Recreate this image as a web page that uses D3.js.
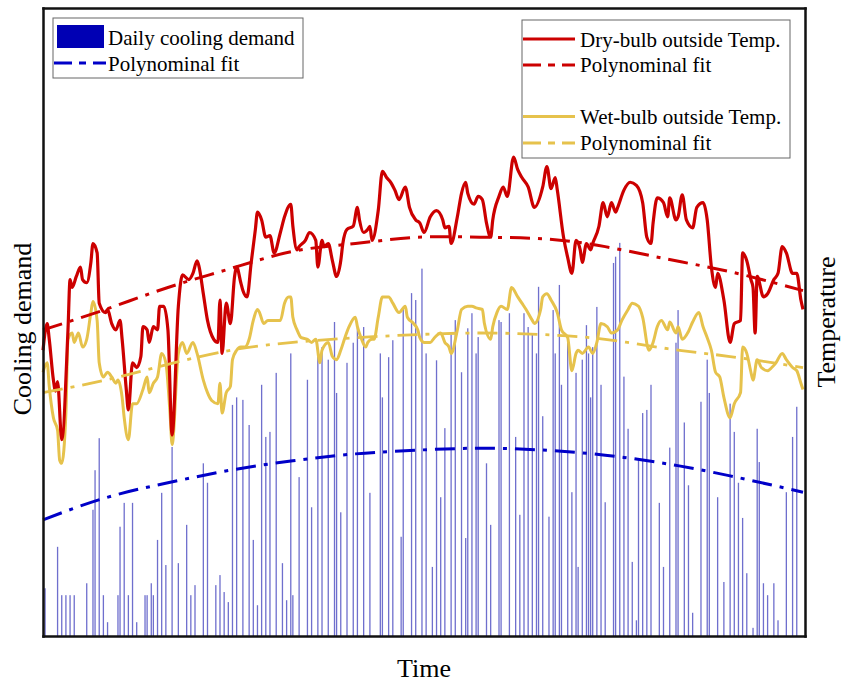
<!DOCTYPE html>
<html>
<head>
<meta charset="utf-8">
<script src="https://cdn.jsdelivr.net/npm/d3@7"></script>
<style>
  html, body { margin: 0; padding: 0; background: #fff; }
  svg { display: block; }
  text { font-family: "Liberation Serif", "Times New Roman", serif; fill: #000; }
</style>
</head>
<body>
<svg id="chart" width="841" height="683"></svg>
<script>
// ---- Data (one year, day index 0..365) ----

// Daily cooling demand, one value per day (relative units)
const dailyDemand = [
  0,7.6,0,0,0,0,0,14.2,0,6.5,0,6.5,0,6.5,0,6.5,0,0,0,0,
  0,8.4,0,0,20.1,26.4,0,31.5,0,6.5,0,2.2,0,0,0,0,6.5,17.4,0,21.2,
  0,6.5,0,21.2,0,2.2,0,0,0,6.5,6.5,0,8.4,6.5,0,15.3,0,22.8,0,11.3,
  0,0,30.1,0,0,11.6,0,0,0,17.7,0,6.5,0,8.1,0,0,0,27.5,0,24.4,
  0,0,0,8.1,0,9.7,0,7.0,0,5.4,0,36.8,0,38.0,0,0,37.6,0,0,33.6,
  0,15.3,0,4.9,0,40.0,0,31.7,0,32.5,0,0,41.9,0,0,11.6,0,5.7,0,45.0,
  6.5,0,0,25.3,0,0,0,40.8,0,20.5,0,0,45.0,0,46.0,0,0,44.0,0,0,
  50.0,38.7,0,19.7,0,0,43.5,0,0,46.7,0,49.5,0,0,49.2,0,0,22.8,0,0,
  0,0,45.0,38.0,0,0,44.4,0,47.1,0,0,0,15.8,52.4,0,0,0,54.6,0,53.5,
  0,0,58.5,0,45.0,0,0,11.0,0,43.9,0,22.1,0,33.1,0,0,48.0,0,50.3,0,
  0,42.0,0,15.6,49.0,0,51.4,0,45.0,47.6,0,0,0,27.5,0,17.7,0,0,0,50.3,
  50.0,0,0,0,51.4,0,0,31.7,0,19.3,0,51.4,0,49.2,0,48.0,0,45.0,55.6,0,
  35.0,0,0,19.0,0,51.9,45.0,0,55.9,40.0,0,0,47.0,0,22.9,0,41.9,11.0,0,44.0,
  0,49.5,45.0,38.0,46.0,0,52.4,0,40.0,0,21.3,0,0,0,59.4,60.4,0,62.6,0,41.3,
  0,33.0,0,11.8,0,2.5,28.0,0,35.5,0,36.0,0,40.0,0,0,0,21.2,0,11.0,0,
  0,30.0,0,0,46.7,51.9,0,0,34.0,0,24.0,0,3.7,0,0,0,37.3,0,0,44.0,
  38.7,0,0,0,22.1,0,0,8.6,0,0,37.0,0,32.5,0,24.4,0,18.8,0,10.0,0,
  0,1.3,0,33.0,27.7,0,8.4,0,6.5,0,0,8.4,0,2.5,0,0,0,22.9,0,0,
  31.7,0,36.5,0,0
];

// Dry-bulb outside temperature (°C): recorded days and values
const dryDays = [0,2,3,5,6,7,9,12,13,14,16,18,19,21,23,24,26,27,30,31,33,35,37,38,40,41,43,45,47,48,50,51,53,55,56,58,60,62,65,67,70,72,74,75,77,79,82,84,85,86,88,90,92,93,95,96,98,100,102,103,105,107,109,111,114,116,119,120,122,123,126,128,131,132,134,135,137,139,141,143,144,146,149,151,152,154,156,157,158,161,163,165,167,169,171,174,176,179,181,183,186,189,192,193,195,196,199,201,203,204,207,209,211,213,215,216,219,221,223,226,228,230,233,236,240,242,244,246,247,250,252,254,256,258,259,261,263,264,267,269,271,273,275,276,279,282,285,288,290,292,293,295,298,300,301,304,305,307,309,312,314,317,319,321,323,324,327,330,332,335,336,338,340,341,342,343,346,348,351,353,355,357,360,362,364,365];
const dryTemp = [18.2,19.9,18.9,16.3,15.6,16.2,12.5,19.5,22.7,22.2,22.9,23.5,22.7,22.5,23.8,25.0,24.4,21.2,20.6,20.8,19.9,19.5,20.1,18.9,15.7,14.4,17.4,17.1,17.8,19.7,19.5,18.7,19.7,19.5,21.0,21.0,19.5,12.8,21.0,23.0,22.7,23.1,23.9,23.5,21.8,20.1,18.9,18.7,21.4,18.0,21.2,19.9,22.9,23.5,22.5,22.0,21.6,23.8,25.9,27.0,26.5,25.4,25.5,24.4,25.7,26.7,27.5,26.1,24.6,24.8,25.2,25.7,25.2,23.5,25.2,24.8,25.0,23.9,22.9,23.9,25.0,25.9,26.1,27.3,26.5,25.7,25.9,26.1,25.2,27.1,29.6,29.2,28.9,28.4,27.8,28.6,27.3,26.5,26.3,25.7,26.7,27.1,26.5,26.0,26.1,25.0,26.7,28.2,28.9,28.2,27.5,28.0,27.8,26.3,25.4,26.5,28.0,28.6,28.0,30.5,29.7,29.2,28.6,27.3,28.6,29.9,28.5,29.2,28.4,25.4,24.1,23.1,25.2,24.6,23.8,25.0,24.6,25.0,26.1,27.6,26.7,27.6,27.0,27.3,28.4,28.9,28.7,27.6,25.4,25.0,26.3,27.9,27.6,26.7,27.9,26.5,26.7,28.1,26.5,26.0,27.3,27.6,26.5,23.5,22.2,23.1,21.4,18.7,19.9,20.1,24.4,23.9,22.7,22.2,19.3,22.9,21.6,21.8,22.7,23.1,24.8,24.4,23.1,23.1,21.4,20.8];

// Wet-bulb outside temperature (°C): recorded days and values
const wetDays = [0,2,3,5,7,8,9,11,12,14,15,17,19,21,23,24,26,27,29,31,33,35,36,38,39,41,43,45,48,50,51,53,55,57,59,61,62,65,67,69,72,74,77,79,81,84,85,86,88,90,91,93,95,97,99,101,103,104,106,108,111,114,116,118,119,120,122,124,127,129,131,133,134,137,139,141,143,145,147,150,151,153,155,156,158,159,161,163,166,168,171,174,175,178,180,181,183,186,188,191,193,195,196,199,201,204,206,208,211,212,215,216,218,220,223,225,228,230,232,235,236,239,240,242,244,247,249,252,254,256,257,259,262,264,266,268,271,273,276,278,281,283,286,288,291,293,295,297,300,301,304,305,307,310,312,315,317,319,321,323,325,327,330,332,335,336,338,340,341,343,345,348,350,352,355,357,360,362,364,365];
const wetTemp = [16.8,17.4,15.9,13.9,13.1,11.2,11.0,14.2,18.9,19.3,18.7,19.3,18.4,18.9,20.6,21.3,20.1,17.4,16.5,16.8,16.5,16.1,16.3,15.2,13.9,12.5,14.8,14.8,15.7,16.5,15.5,16.1,16.5,18.0,17.4,14.2,12.2,18.0,18.7,18.0,18.7,18.0,16.3,15.5,15.0,14.8,16.1,14.2,15.5,15.9,17.6,18.2,18.4,18.4,18.9,20.1,20.8,20.6,19.9,20.1,20.1,20.1,21.2,21.6,21.6,20.3,19.5,19.0,18.9,18.7,18.9,17.4,18.2,18.7,17.8,17.6,18.2,19.0,19.7,20.3,19.7,18.9,18.4,18.7,18.9,18.9,20.3,21.6,21.6,21.2,20.6,21.0,20.3,19.9,19.5,19.0,18.7,18.7,19.0,19.3,18.7,18.4,18.0,19.5,20.8,21.0,21.0,20.9,20.8,19.9,18.9,19.7,20.6,21.0,20.8,22.2,21.6,21.2,20.8,20.1,19.9,20.8,21.6,21.8,21.4,20.6,19.5,19.0,16.9,18.0,18.2,18.0,18.4,18.0,18.7,19.9,19.7,19.3,19.5,20.1,20.8,21.2,21.0,20.3,18.2,18.7,19.7,20.1,19.5,20.0,19.3,19.7,18.9,19.4,20.0,20.6,19.7,19.0,18.2,16.8,16.5,15.2,13.9,14.8,15.5,18.4,18.0,16.8,16.3,17.6,17.1,16.9,17.1,17.4,18.0,17.6,17.1,16.9,16.1,15.7];

// Polynomial fits, evaluated at the sample days
const fitDays = [0,30,60,90,120,150,180,210,240,270,300,330,365];
const dryFit = [19.5,20.8,22.2,23.4,24.5,25.0,25.4,25.4,25.3,24.8,24.0,23.2,22.0];
const wetFit = [15.5,16.3,17.3,18.2,18.7,19.0,19.2,19.3,19.2,18.9,18.3,17.8,17.1];
const demandFit = [18.5,22.0,24.4,26.4,27.9,29.0,29.6,29.9,29.6,28.8,27.4,25.5,22.9];

// Legend entries and axis titles
const legendDemand = ["Daily cooling demand", "Polynominal fit"];
const legendTemp = ["Dry-bulb outside Temp.", "Polynominal fit", "Wet-bulb outside Temp.", "Polynominal fit"];
const axisTitles = { left: "Cooling demand", right: "Temperature", bottom: "Time" };

// ---- Layout ----
const svg = d3.select("#chart");
const plot = { left: 43, right: 805, top: 8, bottom: 636 };

const x = d3.scaleLinear().domain([0, 365]).range([43, 803]);
const yTemp = d3.scaleLinear().domain([0, 40]).range([plot.bottom, plot.top]);
const yDemand = d3.scaleLinear().domain([0, 100]).range([plot.bottom, plot.top]);

const colors = {
  bar: "#5656c4",
  demandFit: "#0000c8",
  swatch: "#0000b4",
  dry: "#cc0000",
  wet: "#e6c24c"
};
const dashFit = "20,8,4,8";

// ---- Bars: daily cooling demand ----
svg.append("g")
  .selectAll("rect")
  .data(dailyDemand.map((v, i) => ({ day: i, v })).filter(d => d.v > 0))
  .join("rect")
  .attr("x", d => x(d.day) - 0.65)
  .attr("width", 1.3)
  .attr("y", d => yDemand(d.v))
  .attr("height", d => yDemand(0) - yDemand(d.v))
  .attr("fill", colors.bar)
  .attr("fill-opacity", 0.85);

// ---- Lines ----
const seriesLine = d3.line()
  .x(d => x(d[0]))
  .y(d => d[2](d[1]));

function drawSeries(days, values, scale, color, width, dash, curve) {
  const pts = days.map((d, i) => [d, values[i], scale]);
  svg.append("path")
    .datum(pts)
    .attr("fill", "none")
    .attr("stroke", color)
    .attr("stroke-width", width)
    .attr("stroke-linejoin", "round")
    .attr("stroke-dasharray", dash)
    .attr("d", seriesLine.curve(curve)(pts));
}

drawSeries(fitDays, demandFit, yDemand, colors.demandFit, 3, dashFit, d3.curveNatural);
drawSeries(wetDays, wetTemp, yTemp, colors.wet, 3, null, d3.curveMonotoneX);
drawSeries(dryDays, dryTemp, yTemp, colors.dry, 3.2, null, d3.curveMonotoneX);
drawSeries(fitDays, wetFit, yTemp, colors.wet, 2.8, dashFit, d3.curveNatural);
drawSeries(fitDays, dryFit, yTemp, colors.dry, 3, dashFit, d3.curveNatural);

// ---- Frame (axes without ticks) ----
const frame = svg.append("g").attr("class", "frame");
const xFrame = d3.scaleLinear().domain([0, 1]).range([plot.left, plot.right]);
const yFrame = d3.scaleLinear().domain([0, 1]).range([plot.bottom, plot.top]);
frame.append("g").attr("transform", `translate(0,${plot.bottom})`)
  .call(d3.axisBottom(xFrame).tickValues([]).tickSizeOuter(0));
frame.append("g").attr("transform", `translate(0,${plot.top})`)
  .call(d3.axisTop(xFrame).tickValues([]).tickSizeOuter(0));
frame.append("g").attr("transform", `translate(${plot.left},0)`)
  .call(d3.axisLeft(yFrame).tickValues([]).tickSizeOuter(0));
frame.append("g").attr("transform", `translate(${plot.right},0)`)
  .call(d3.axisRight(yFrame).tickValues([]).tickSizeOuter(0));
frame.selectAll(".domain").attr("stroke", "#111").attr("stroke-width", 2.5)
  .attr("stroke-linecap", "square");

// ---- Legends ----
const legendFont = 21;

// Cooling demand legend (top left)
const lg1 = svg.append("g");
lg1.append("rect").attr("x", 53).attr("y", 18).attr("width", 250).attr("height", 60)
  .attr("fill", "#fff").attr("stroke", "#666").attr("stroke-width", 1);
lg1.append("rect").attr("x", 57).attr("y", 25).attr("width", 47).attr("height", 23)
  .attr("fill", colors.swatch);
lg1.append("line").attr("x1", 54).attr("x2", 106).attr("y1", 63).attr("y2", 63)
  .attr("stroke", colors.demandFit).attr("stroke-width", 3).attr("stroke-dasharray", "18,7,7,7");
lg1.selectAll("text.lbl").data(legendDemand).join("text")
  .attr("class", "lbl")
  .attr("x", 108)
  .attr("y", (d, i) => [45, 70.5][i])
  .attr("font-size", legendFont)
  .text(d => d);

// Temperature legend (top right)
const lg2 = svg.append("g");
lg2.append("rect").attr("x", 522).attr("y", 20).attr("width", 268).attr("height", 138)
  .attr("fill", "#fff").attr("stroke", "#666").attr("stroke-width", 1);
const tempEntries = [
  { color: colors.dry, dash: null, ly: 39, ty: 46.5 },
  { color: colors.dry, dash: "18,7,7,7", ly: 65, ty: 72 },
  { color: colors.wet, dash: null, ly: 116.5, ty: 123.5 },
  { color: colors.wet, dash: "18,7,7,7", ly: 143, ty: 150 }
];
tempEntries.forEach((e, i) => {
  lg2.append("line").attr("x1", 523).attr("x2", 575).attr("y1", e.ly).attr("y2", e.ly)
    .attr("stroke", e.color).attr("stroke-width", 3)
    .attr("stroke-dasharray", e.dash);
  lg2.append("text").attr("x", 580).attr("y", e.ty)
    .attr("font-size", legendFont).text(legendTemp[i]);
});

// ---- Axis titles ----
svg.append("text")
  .attr("transform", `translate(31,${(plot.top + plot.bottom) / 2 + 7}) rotate(-90)`)
  .attr("text-anchor", "middle").attr("font-size", 26)
  .text(axisTitles.left);
svg.append("text")
  .attr("transform", `translate(835,${(plot.top + plot.bottom) / 2}) rotate(-90)`)
  .attr("text-anchor", "middle").attr("font-size", 26)
  .text(axisTitles.right);
svg.append("text")
  .attr("x", (plot.left + plot.right) / 2).attr("y", 677)
  .attr("text-anchor", "middle").attr("font-size", 26)
  .text(axisTitles.bottom);
</script>
</body>
</html>
